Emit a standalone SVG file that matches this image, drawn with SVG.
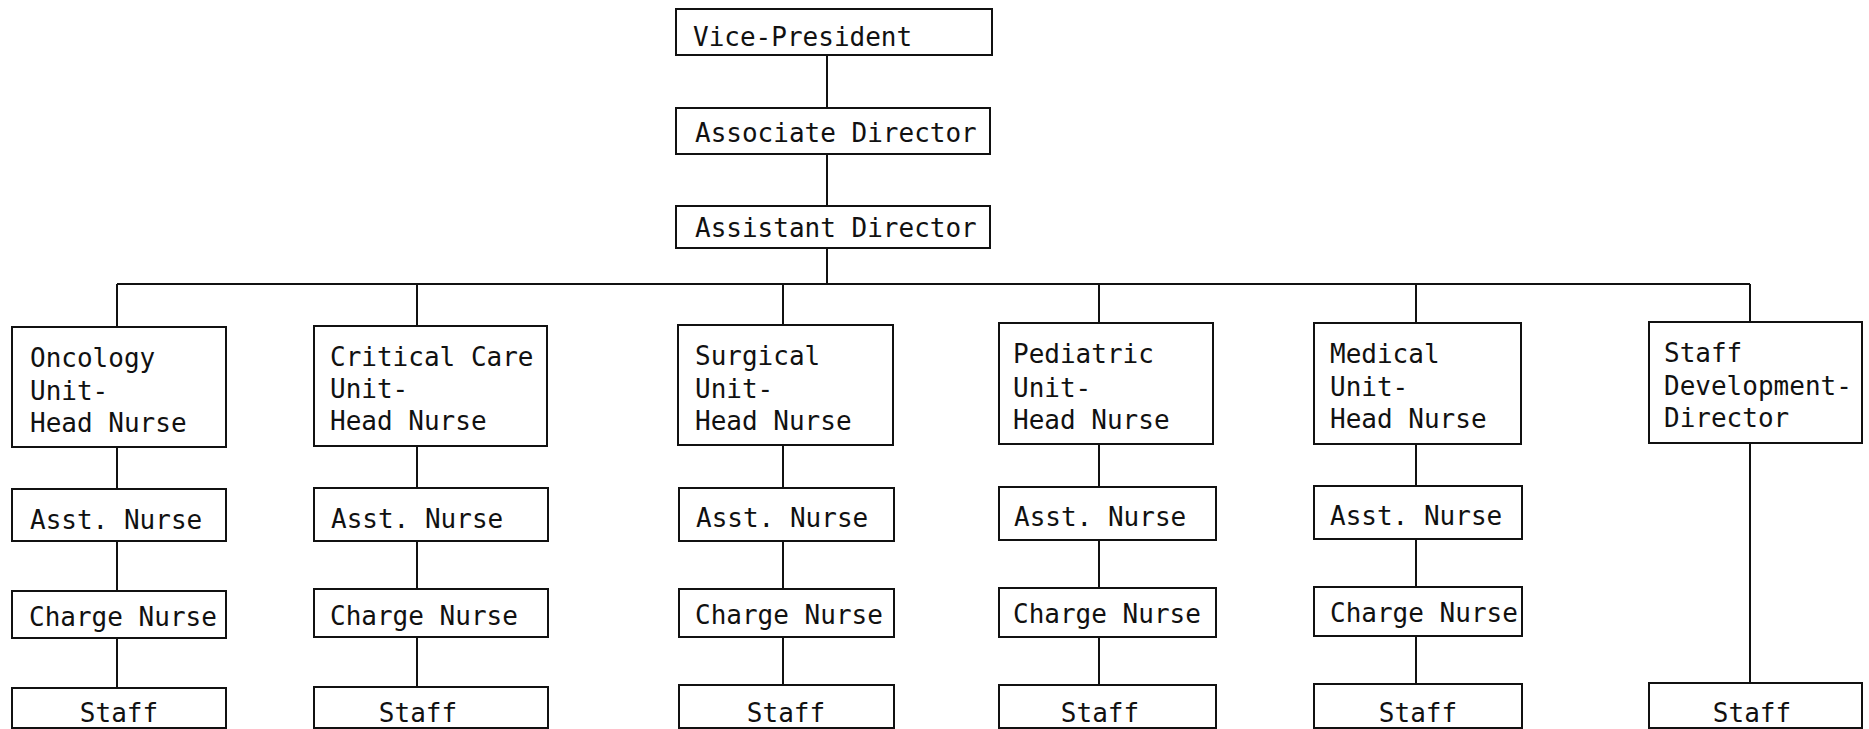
<svg xmlns="http://www.w3.org/2000/svg" width="1869" height="729" viewBox="0 0 1869 729">
<style>
rect{fill:#fff;stroke:#111;stroke-width:2}
line{stroke:#111;stroke-width:2}
text{font-family:"DejaVu Sans Mono","Liberation Mono",monospace;font-size:26px;fill:#111}
.c{text-anchor:middle}
</style>
<rect x="0" y="0" width="1869" height="729" style="stroke:none"/>
<g id="connectors">
<line x1="827" y1="55" x2="827" y2="108"/>
<line x1="827" y1="154" x2="827" y2="206"/>
<line x1="827" y1="248" x2="827" y2="284"/>
<line x1="117" y1="284" x2="1750" y2="284"/>
<line x1="117" y1="284" x2="117" y2="327"/>
<line x1="417" y1="284" x2="417" y2="326"/>
<line x1="783" y1="284" x2="783" y2="325"/>
<line x1="1099" y1="284" x2="1099" y2="323"/>
<line x1="1416" y1="284" x2="1416" y2="323"/>
<line x1="1750" y1="284" x2="1750" y2="322"/>
<line x1="117" y1="447" x2="117" y2="489"/>
<line x1="117" y1="541" x2="117" y2="591"/>
<line x1="117" y1="638" x2="117" y2="688"/>
<line x1="417" y1="446" x2="417" y2="488"/>
<line x1="417" y1="541" x2="417" y2="589"/>
<line x1="417" y1="637" x2="417" y2="687"/>
<line x1="783" y1="445" x2="783" y2="488"/>
<line x1="783" y1="541" x2="783" y2="589"/>
<line x1="783" y1="637" x2="783" y2="685"/>
<line x1="1099" y1="444" x2="1099" y2="487"/>
<line x1="1099" y1="540" x2="1099" y2="588"/>
<line x1="1099" y1="637" x2="1099" y2="685"/>
<line x1="1416" y1="444" x2="1416" y2="486"/>
<line x1="1416" y1="539" x2="1416" y2="587"/>
<line x1="1416" y1="636" x2="1416" y2="684"/>
<line x1="1750" y1="443" x2="1750" y2="683"/>
</g>
<g id="vp"><rect x="676" y="9" width="316" height="46"/><text x="693" y="46">Vice-President</text></g>
<g id="assoc"><rect x="676" y="108" width="314" height="46"/><text x="695" y="142">Associate Director</text></g>
<g id="assist"><rect x="676" y="206" width="314" height="42"/><text x="695" y="237">Assistant Director</text></g>

<g id="oncology"><rect x="12" y="327" width="214" height="120"/><text x="30" y="367">Oncology</text><text x="30" y="400">Unit-</text><text x="30" y="432">Head Nurse</text></g>
<g id="onc-asst"><rect x="12" y="489" width="214" height="52"/><text x="30" y="529">Asst. Nurse</text></g>
<g id="onc-charge"><rect x="12" y="591" width="214" height="47"/><text x="29" y="626">Charge Nurse</text></g>
<g id="onc-staff"><rect x="12" y="688" width="214" height="40"/><text class="c" x="119" y="722">Staff</text></g>

<g id="critical"><rect x="314" y="326" width="233" height="120"/><text x="330" y="366">Critical Care</text><text x="330" y="398">Unit-</text><text x="330" y="430">Head Nurse</text></g>
<g id="crit-asst"><rect x="314" y="488" width="234" height="53"/><text x="331" y="528">Asst. Nurse</text></g>
<g id="crit-charge"><rect x="314" y="589" width="234" height="48"/><text x="330" y="625">Charge Nurse</text></g>
<g id="crit-staff"><rect x="314" y="687" width="234" height="41"/><text class="c" x="418" y="722">Staff</text></g>

<g id="surgical"><rect x="678" y="325" width="215" height="120"/><text x="695" y="365">Surgical</text><text x="695" y="398">Unit-</text><text x="695" y="430">Head Nurse</text></g>
<g id="surg-asst"><rect x="679" y="488" width="215" height="53"/><text x="696" y="527">Asst. Nurse</text></g>
<g id="surg-charge"><rect x="679" y="589" width="215" height="48"/><text x="695" y="624">Charge Nurse</text></g>
<g id="surg-staff"><rect x="679" y="685" width="215" height="43"/><text class="c" x="786" y="722">Staff</text></g>

<g id="pediatric"><rect x="999" y="323" width="214" height="121"/><text x="1013" y="363">Pediatric</text><text x="1013" y="397">Unit-</text><text x="1013" y="429">Head Nurse</text></g>
<g id="ped-asst"><rect x="999" y="487" width="217" height="53"/><text x="1014" y="526">Asst. Nurse</text></g>
<g id="ped-charge"><rect x="999" y="588" width="217" height="49"/><text x="1013" y="623">Charge Nurse</text></g>
<g id="ped-staff"><rect x="999" y="685" width="217" height="43"/><text class="c" x="1100" y="722">Staff</text></g>

<g id="medical"><rect x="1314" y="323" width="207" height="121"/><text x="1330" y="363">Medical</text><text x="1330" y="396">Unit-</text><text x="1330" y="428">Head Nurse</text></g>
<g id="med-asst"><rect x="1314" y="486" width="208" height="53"/><text x="1330" y="525">Asst. Nurse</text></g>
<g id="med-charge"><rect x="1314" y="587" width="208" height="49"/><text x="1330" y="622">Charge Nurse</text></g>
<g id="med-staff"><rect x="1314" y="684" width="208" height="44"/><text class="c" x="1418" y="722">Staff</text></g>

<g id="staffdev"><rect x="1649" y="322" width="213" height="121"/><text x="1664" y="362">Staff</text><text x="1664" y="395">Development-</text><text x="1664" y="427">Director</text></g>
<g id="dev-staff"><rect x="1649" y="683" width="213" height="45"/><text class="c" x="1752" y="722">Staff</text></g>
</svg>
